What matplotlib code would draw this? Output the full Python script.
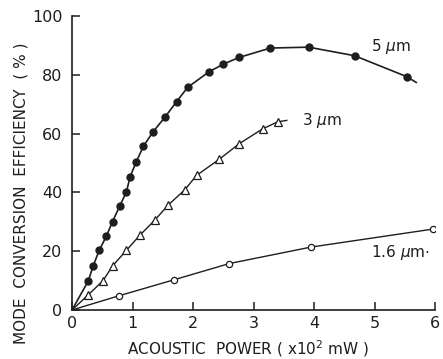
import matplotlib
matplotlib.use('Agg')
import matplotlib.pyplot as plt

# 5 um guide, filled circles
x5=[0.27,0.35,0.45,0.57,0.67,0.79,0.90,0.96,1.06,1.18,1.34,1.54,1.73,1.91,2.27,2.50,2.76,3.28,3.91,4.67,5.53]
y5=[9.9,15.0,20.3,25.2,30.1,35.4,40.2,45.3,50.3,55.7,60.6,65.7,70.9,75.7,81.1,83.6,85.9,89.1,89.4,86.5,79.4]
end5=(5.69,77.4)
# 3 um guide, open triangles
x3=[0.27,0.51,0.67,0.90,1.12,1.37,1.59,1.86,2.06,2.43,2.76,3.15,3.40]
y3=[5.2,9.9,15.0,20.3,25.4,30.6,35.7,40.8,45.8,51.2,56.5,61.6,64.0]
end3=(3.55,64.5)
# 1.6 um guide, open circles
x16=[0.77,1.69,2.60,3.95,5.96]
y16=[4.8,10.3,15.8,21.4,27.5]

xticks=[0,1,2,3,4,5,6]
yticks=[0,20,40,60,80,100]
ink='#1e1e1e'

fig=plt.figure(figsize=(4.43,3.59),dpi=100)
ax=fig.add_axes([72/443,49/359,363/443,294/359])

ax.plot([0]+x5+[end5[0]],[0]+y5+[end5[1]],color=ink,lw=1.2)
ax.plot(x5,y5,'o',color=ink,ms=5)
ax.plot([0]+x3+[end3[0]],[0]+y3+[end3[1]],color=ink,lw=1.0)
ax.plot(x3,y3,'^',mfc='white',mec=ink,mew=0.9,ms=5.5)
ax.plot([0]+x16,[0]+y16,color=ink,lw=1.0)
ax.plot(x16,y16,'o',mfc='white',mec=ink,mew=0.9,ms=4.5)

ax.text(4.95,89.5,r'5 $\mu$m',fontsize=11,color=ink,va='center')
ax.text(3.80,64.5,r'3 $\mu$m',fontsize=11,color=ink,va='center')
ax.text(4.95,19.5,r'1.6 $\mu$m$\cdot$',fontsize=11,color=ink,va='center')

ax.set_xlim(0,6)
ax.set_ylim(0,100)
ax.set_xticks(xticks)
ax.set_yticks(yticks)
for s in ['top','right']:
    ax.spines[s].set_visible(False)
for s in ['left','bottom']:
    ax.spines[s].set_color(ink)
    ax.spines[s].set_linewidth(1.2)
ax.tick_params(direction='in',length=6,width=1.1,colors=ink,labelsize=11.5)
ax.tick_params(axis='y',pad=7)
ax.tick_params(axis='x',pad=4)

fig.text(248/443,1-349/359,r'ACOUSTIC  POWER ( x10$^2$ mW )',fontsize=11,color=ink,ha='center',va='center')
fig.text(21/443,1-193/359,'MODE  CONVERSION  EFFICIENCY  ( % )',fontsize=11,color=ink,ha='center',va='center',rotation=90)

fig.savefig('out.png',dpi=100)
